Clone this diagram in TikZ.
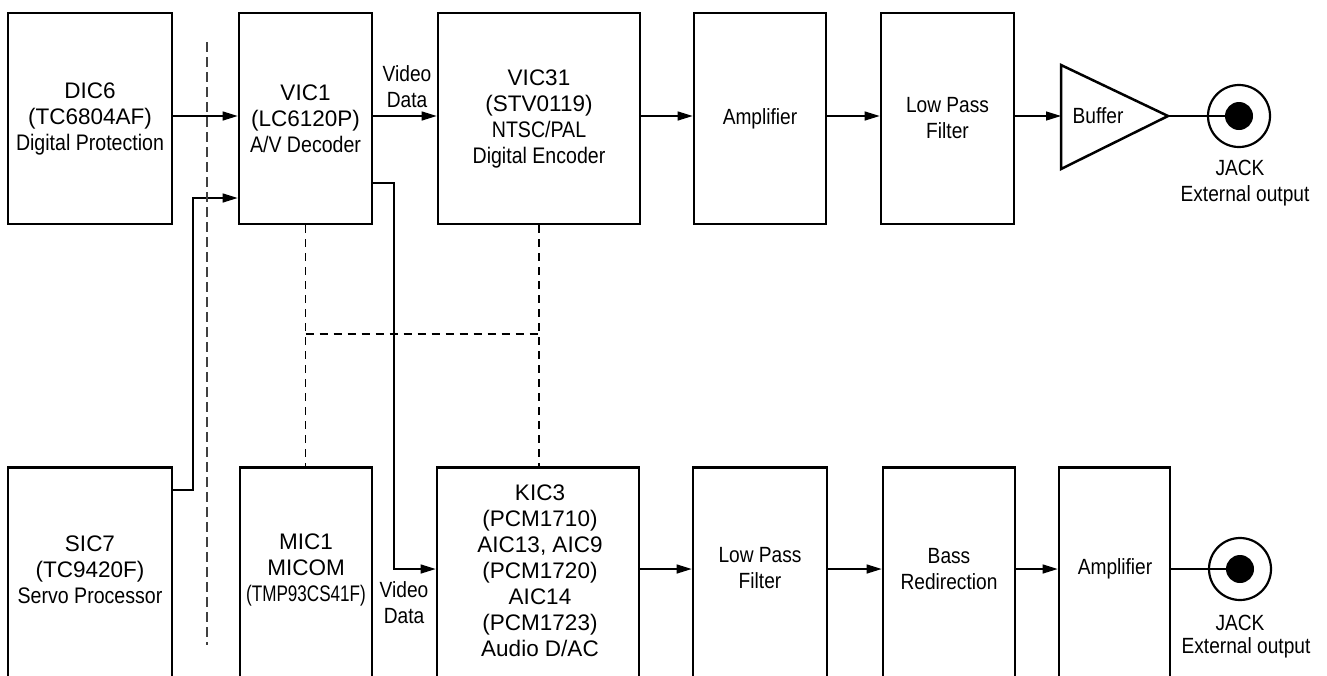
\documentclass[tikz,border=0pt]{standalone}
\usepackage{fontspec}
\setmainfont{Liberation Sans}
\newfontfamily\nr[FakeStretch=0.87]{Liberation Sans}
\newfontfamily\nrr[FakeStretch=0.76]{Liberation Sans}
\usetikzlibrary{arrows.meta}
\begin{document}
\begin{tikzpicture}[x=1pt,y=-1pt,
  blk/.style={draw, line width=2.7pt, inner sep=0pt, align=center,
    font=\fontsize{22.5pt}{26pt}\selectfont},
  nblk/.style={blk, font=\nr\fontsize{22pt}{26pt}\selectfont},
  txt/.style={inner sep=0pt, align=center, font=\fontsize{22.5pt}{26pt}\selectfont},
  ntxt/.style={inner sep=0pt, align=center, font=\nr\fontsize{22pt}{26pt}\selectfont},
  arr/.style={line width=1.3pt, -{Triangle[length=15pt,width=9pt]}},
  wire/.style={line width=1.3pt},
  ctl/.style={line width=1.3pt, dash pattern=on 8pt off 6pt},
  sep/.style={line width=1.5pt, black!75, dash pattern=on 10pt off 5pt},
  thickwire/.style={line width=2.2pt},
]
\useasboundingbox (0,0) rectangle (1327,675);
\begin{scope}
\clip (0,0) rectangle (1327,675);
% ---- top row ----
\node[blk, minimum width=164pt, minimum height=211pt] (dic6) at (90,118.5)
  {DIC6\\(TC6804AF)\\{\nr Digital Protection}};
\node[blk, minimum width=133pt, minimum height=211pt] (vic1) at (305.5,118.5)
  {VIC1\\(LC6120P)\\{\nr A/V Decoder}};
\node[blk, minimum width=202pt, minimum height=211pt] (vic31) at (539,118.5)
  {VIC31\\(STV0119)\\{\nr NTSC/PAL}\\{\nr Digital Encoder}};
\node[nblk, minimum width=132pt, minimum height=211pt] (amp1) at (760,118.5) {Amplifier};
\node[nblk, minimum width=133pt, minimum height=211pt] (lpf1) at (947.5,118.5) {Low Pass\\Filter};
% buffer
\coordinate (bufL) at (1061,116);
\coordinate (bufT) at (1168,116);
\draw[line width=2.5pt, line join=miter] (1061,65) -- (bufT) -- (1061,169) -- cycle;
\node[ntxt] (buft) at (1098,116) {Buffer};
% jack 1
\node[circle, draw, line width=2.2pt, minimum size=62pt, inner sep=0pt] (jack1) at (1239,116) {};
\node[circle, fill=black, minimum size=28pt, inner sep=0pt] (jack1dot) at (1239,116) {};
\node[ntxt] (jack1a) at (1240,168) {JACK};
\node[ntxt] (jack1b) at (1245,196) {External output};
% ---- bottom row ----
\node[draw, line width=2.7pt, minimum width=164pt, minimum height=230pt, anchor=north] (sic7) at (90,466) {};
\node[draw, line width=2.7pt, minimum width=132pt, minimum height=230pt, anchor=north] (mic1) at (306,466) {};
\node[draw, line width=2.7pt, minimum width=202pt, minimum height=230pt, anchor=north] (kic3) at (538,466) {};
\node[draw, line width=2.7pt, minimum width=134pt, minimum height=230pt, anchor=north] (lpf2) at (760,466) {};
\node[draw, line width=2.7pt, minimum width=132pt, minimum height=230pt, anchor=north] (bass) at (949,466) {};
\node[draw, line width=2.7pt, minimum width=111pt, minimum height=230pt, anchor=north] (amp2) at (1114.5,466) {};
\node[txt] (sic7t) at (90,570) {SIC7\\(TC9420F)\\{\nr Servo Processor}};
\node[txt] (mic1t) at (306,570) {MIC1\\MICOM\\{\nrr (TMP93CS41F)}};
\node[txt] (kic3t) at (540,571) {KIC3\\(PCM1710)\\AIC13, AIC9\\(PCM1720)\\AIC14\\(PCM1723)\\Audio D/AC};
\node[ntxt] (lpf2t) at (760,568) {Low Pass\\Filter};
\node[ntxt] (basst) at (949,569) {Bass\\Redirection};
\node[ntxt] (amp2t) at (1115,569) {Amplifier};
% jack 2
\node[circle, draw, line width=2.2pt, minimum size=62pt, inner sep=0pt] (jack2) at (1240,569) {};
\node[circle, fill=black, minimum size=28pt, inner sep=0pt] (jack2dot) at (1240,569) {};
\node[ntxt] (jack2a) at (1240,623) {JACK};
\node[ntxt] (jack2b) at (1246,648) {External output};
% labels
\node[ntxt] (vd1) at (407,86.5) {Video\\Data};
\node[ntxt] (vd2) at (404,603) {Video\\Data};
% ---- connectors ----
\coordinate (rowA) at (0,116);
\coordinate (rowB) at (0,569);
\draw[arr] (dic6.east |- rowA) -- (vic1.west |- rowA);
\draw[arr] (vic1.east |- rowA) -- (vic31.west |- rowA);
\draw[arr] (vic31.east |- rowA) -- (amp1.west |- rowA);
\draw[arr] (amp1.east |- rowA) -- (lpf1.west |- rowA);
\draw[arr] (lpf1.east |- rowA) -- (bufL);
\draw[thickwire] (bufT) -- (jack1dot.center);
\draw[arr] (kic3.east |- rowB) -- (lpf2.west |- rowB);
\draw[arr] (lpf2.east |- rowB) -- (bass.west |- rowB);
\draw[arr] (bass.east |- rowB) -- (amp2.west |- rowB);
\draw[thickwire] (amp2.east |- rowB) -- (jack2dot.center);
% servo to decoder
\coordinate (c1) at (193,490);
\coordinate (c2) at (193,198);
\draw[arr] (sic7.east |- c1) -- (c1) -- (c2) -- (vic1.west |- c2);
% decoder to audio DAC
\coordinate (c3) at (394,183);
\coordinate (c4) at (394,569);
\draw[arr] (vic1.east |- c3) -- (c3) -- (c4) -- (kic3.west |- c4);
% control bus (dashed)
\coordinate (bus) at (0,334);
\draw[ctl] (vic1.south) -- (vic1.south |- mic1.north);
\draw[ctl] (vic31.south) -- (vic31.south |- kic3.north);
\draw[ctl] (vic1.south |- bus) -- (vic31.south |- bus);
% separator
\coordinate (s1) at (207,42);
\coordinate (s2) at (207,645);
\draw[sep] (s1) -- (s2);
\end{scope}
\end{tikzpicture}
\end{document}
